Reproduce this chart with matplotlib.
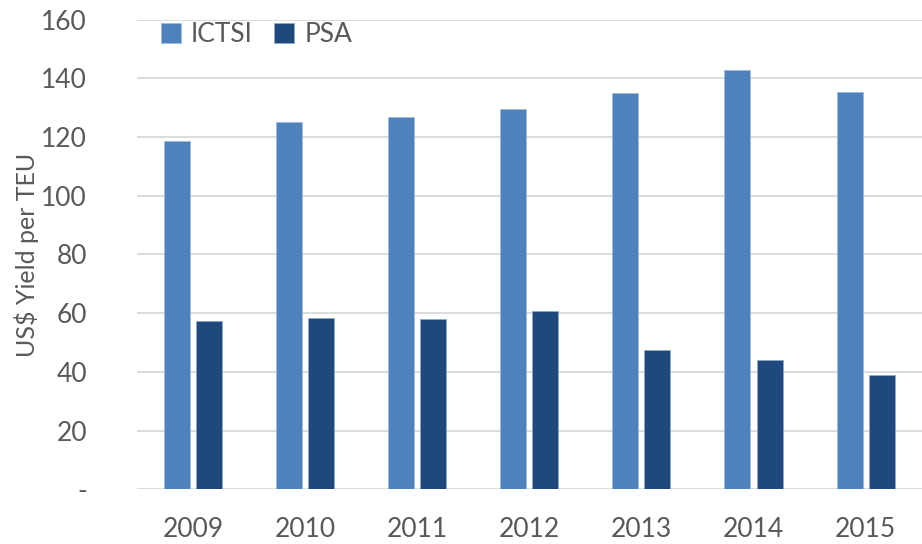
import matplotlib.pyplot as plt
import numpy as np

plt.rcParams["font.family"] = ["Lato", "DejaVu Sans"]

years = ["2009", "2010", "2011", "2012", "2013", "2014", "2015"]
ictsi = [118.6, 125.2, 126.9, 129.5, 134.9, 142.7, 135.2]
psa = [57.5, 58.4, 57.9, 60.9, 47.5, 43.9, 39.1]
y_ticks = [0, 20, 40, 60, 80, 100, 120, 140, 160]
y_tick_labels = ["-", "20", "40", "60", "80", "100", "120", "140", "160"]

text_color = "#595959"
grid_color = "#d9d9d9"

fig = plt.figure(figsize=(9.22, 5.44), dpi=100)
ax = fig.add_axes([0.1486, 0.1004, 0.851, 0.8636])

x = np.arange(len(years))
width = 0.232
offset = 0.143
ax.bar(x - offset, ictsi, width, color="#4f81bd", edgecolor="#9dbbe0", linewidth=0.6, label="ICTSI", zorder=3)
ax.bar(x + offset, psa, width, color="#1f497d", edgecolor="#8fa8c8", linewidth=0.6, label="PSA", zorder=3)

ax.set_xlim(-0.5, len(years) - 0.5)
ax.set_ylim(0, 160)
ax.set_yticks(y_ticks)
ax.set_yticklabels(y_tick_labels)
ax.set_xticks(x)
ax.set_xticklabels(years)
ax.tick_params(axis="both", length=0, labelsize=19, colors=text_color)
ax.tick_params(axis="y", pad=36)
ax.tick_params(axis="x", pad=20)

ax.grid(axis="y", color=grid_color, linewidth=1.3, zorder=0)
for side in ["top", "right", "left", "bottom"]:
    ax.spines[side].set_visible(False)

ax.set_ylabel("US$ Yield per TEU", fontsize=18, color=text_color)
ax.yaxis.set_label_coords(-0.125, 0.5)

ax.legend(loc="upper left", bbox_to_anchor=(0.0, 1.045), ncol=2, frameon=False,
          fontsize=19, labelcolor=text_color, handlelength=0.75, handleheight=0.75,
          handletextpad=0.4, columnspacing=0.8)

fig.savefig("out.png", dpi=100)
